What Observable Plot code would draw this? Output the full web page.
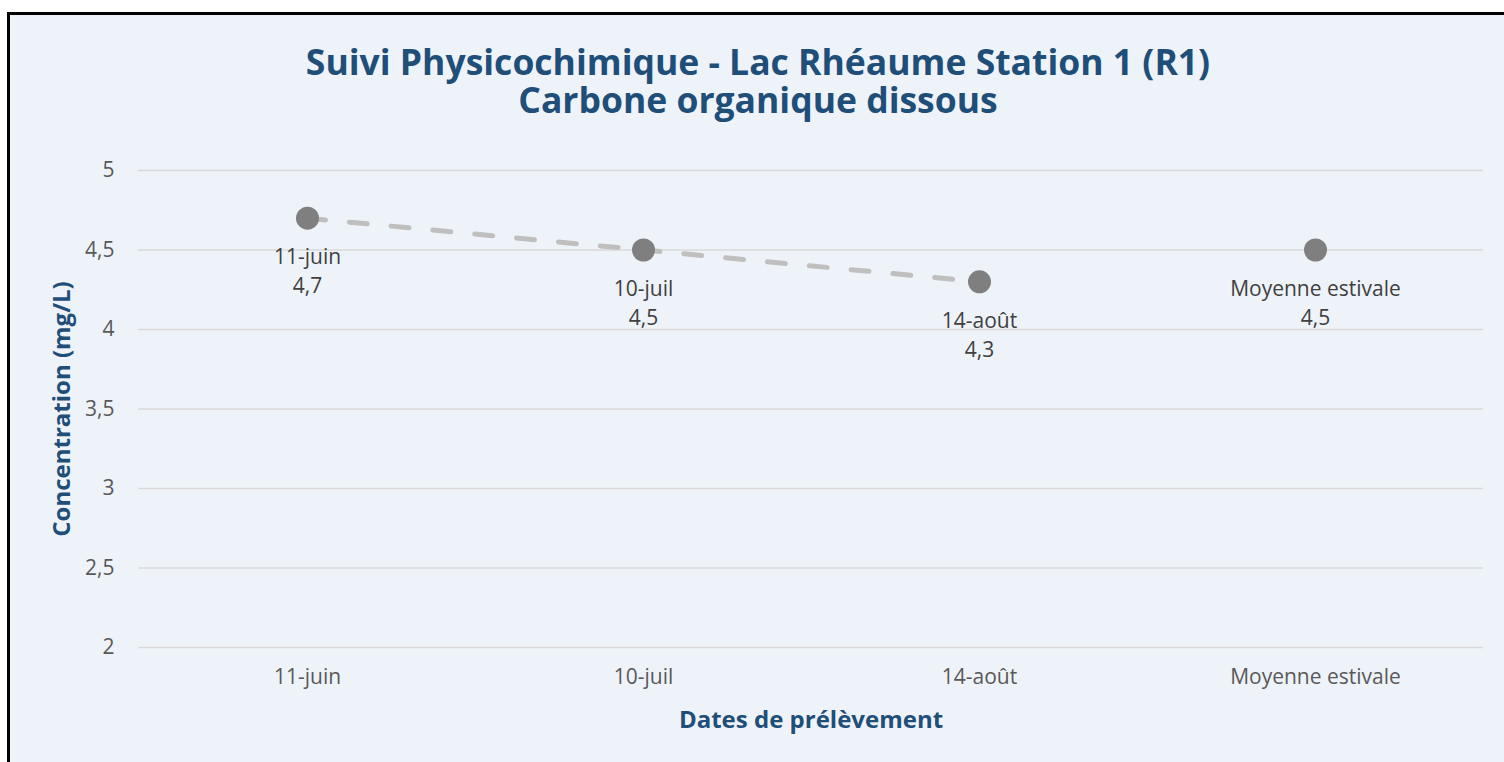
<!DOCTYPE html>
<html>
<head>
<meta charset="utf-8">
<script src="https://cdn.jsdelivr.net/npm/d3@7"></script>
<script src="https://cdn.jsdelivr.net/npm/@observablehq/plot@0.6"></script>
<style>
  html, body { margin: 0; padding: 0; background: #ffffff; overflow: hidden; }
  #frame {
    position: absolute; left: 7px; top: 12px; width: 1510px; height: 800px;
    border: 3px solid #000000; background: #EEF3FA; box-sizing: border-box;
  }
  .title {
    position: absolute; left: 0; top: 42px; width: 1516px; text-align: center;
    font-family: "Open Sans", sans-serif; font-weight: 700; color: #1F4E79;
    font-size: 35.5px; line-height: 38px; white-space: nowrap;
  }
  #chart { position: absolute; left: 0; top: 0; }
</style>
</head>
<body>
<div id="frame"></div>
<div class="title" id="title">Suivi Physicochimique - Lac Rhéaume Station 1 (R1)<br>Carbone organique dissous</div>
<div id="chart"></div>
<script>
const categories = ["11-juin", "10-juil", "14-août", "Moyenne estivale"];
const values = [4.7, 4.5, 4.3, 4.5];
const inSeriesLine = [true, true, true, false];
const yTicks = [2, 2.5, 3, 3.5, 4, 4.5, 5];
const yTitle = "Concentration (mg/L)";
const xTitle = "Dates de prélèvement";

const data = categories.map((c, i) => ({cat: c, value: values[i], line: inSeriesLine[i]}));
const fmt = v => String(v).replace(".", ",");

const plot = Plot.plot({
  width: 1504,
  height: 762,
  marginLeft: 138,
  marginRight: 21,
  marginTop: 170,
  marginBottom: 115,
  style: {background: "transparent", fontFamily: "Open Sans, sans-serif", fontSize: "21px", color: "#595959"},
  x: {type: "point", domain: categories, padding: 0.5},
  y: {domain: [2, 5]},
  marks: [
    Plot.ruleY(yTicks, {stroke: "#D9D9D9", strokeWidth: 1.5}),
    Plot.axisY({ticks: yTicks, tickSize: 0, tickPadding: 24, tickFormat: fmt, label: null, fontSize: 21}),
    Plot.axisX({tickSize: 0, tickPadding: 22, label: null, fontSize: 21}),
    Plot.line(data.filter(d => d.line), {x: "cat", y: "value", stroke: "#BFBFBF", strokeWidth: 5, strokeDasharray: "18,24", strokeLinecap: "round"}),
    Plot.dot(data, {x: "cat", y: "value", r: 11.5, fill: "#7F7F7F", stroke: "none"}),
    Plot.text(data, {x: "cat", y: "value", text: "cat", dy: 39, lineAnchor: "middle", fill: "#404040", fontSize: 21}),
    Plot.text(data, {x: "cat", y: "value", text: d => fmt(d.value), dy: 68, lineAnchor: "middle", fill: "#404040", fontSize: 21}),
    Plot.text([yTitle], {text: d => d, frameAnchor: "left", dx: -76, rotate: -90, textAnchor: "middle", lineAnchor: "middle", fill: "#1F4E79", fontWeight: "bold", fontSize: 24}),
    Plot.text([xTitle], {text: d => d, frameAnchor: "bottom", dy: 73, textAnchor: "middle", lineAnchor: "middle", fill: "#1F4E79", fontWeight: "bold", fontSize: 24})
  ]
});
document.getElementById("chart").appendChild(plot);
</script>
</body>
</html>
